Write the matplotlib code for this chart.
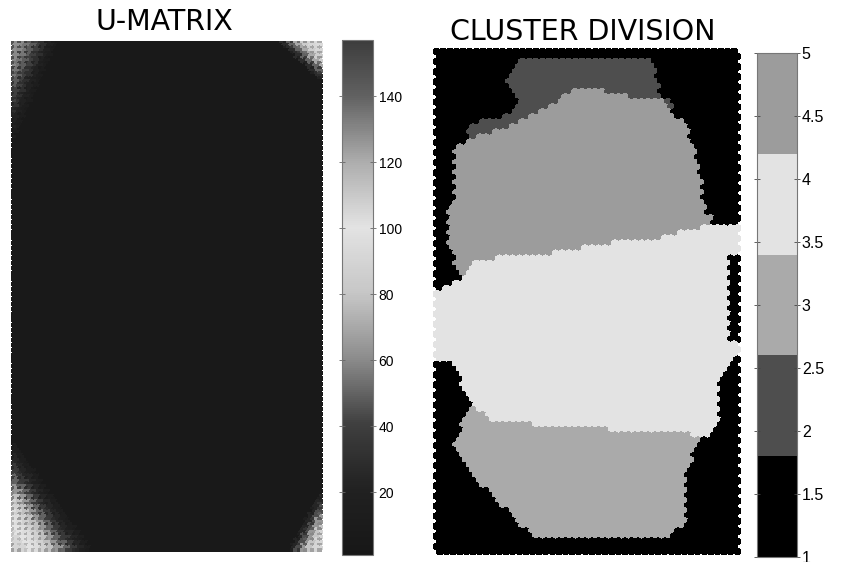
import numpy as np
import matplotlib
matplotlib.use('Agg')
import matplotlib.pyplot as plt
import matplotlib.cm as cm
from matplotlib.collections import PolyCollection
from matplotlib.colors import LinearSegmentedColormap, ListedColormap, Normalize
from matplotlib.path import Path

# SOM grid size (rows x cols), u-matrix is 2n-1 in each direction
som_rows, som_cols = 100, 46
umat_rows, umat_cols = 2 * som_rows - 1, 2 * som_cols - 1

# u-matrix colour scale
umat_levels = [0, 20, 40, 60, 80, 100, 120, 140, 157]
umat_greys = [0.09, 0.13, 0.25, 0.55, 0.78, 0.89, 0.68, 0.38, 0.24]
umat_ticks = [20, 40, 60, 80, 100, 120, 140]
umat_base = 6

# corner patches of the u-matrix: extent (rows, cols) and values from the corner outwards
tl_extent = (38, 13)
tl_values = [62, 60, 55, 48, 40, 30, 20, 12]
tr_extent = (15, 12)
tr_values = [95, 92, 85, 70, 50, 28]
bl_extent = (42, 23)
bl_values = [90, 105, 100, 96, 88, 78, 64, 50, 36, 24, 14]
br_extent = (22, 9)
br_values = [92, 90, 80, 64, 44, 24]

# cluster map: grey per cluster id 1..5 and region outlines in (col, row) units
cluster_ids = [1, 2, 3, 4, 5]
cluster_greys = ['#000000', '#4e4e4e', '#aaaaaa', '#e3e3e3', '#9c9c9c']
cb2_ticks = [1, 1.5, 2, 2.5, 3, 3.5, 4, 4.5, 5]

region2 = [(12.3, 1.6), (32.5, 1.6), (34.0, 8.5), (36.3, 10.9), (35.5, 11.3), (34.0, 9.9),
           (30.0, 9.5), (26.5, 8.3), (25.0, 7.6), (21.6, 7.4), (19.0, 9.3), (15.6, 11.9),
           (13.0, 13.5), (10.5, 15.3), (7.0, 16.5), (4.5, 17.9), (4.8, 15.3), (6.6, 13.9),
           (11.2, 12.5), (12.6, 10.5), (10.5, 6.6), (11.2, 4.6)]
region5 = [(4.5, 17.9), (7.0, 16.5), (10.5, 15.3), (13.0, 13.5), (15.6, 11.9), (19.0, 9.3),
           (21.6, 7.4), (25.0, 7.6), (26.5, 8.3), (30.0, 9.5), (34.0, 9.9), (35.5, 11.3),
           (36.6, 13.3), (38.0, 15.5), (38.9, 19.3), (40.0, 24.5), (40.7, 31.8), (41.5, 32.8),
           (41.5, 34.4), (33.0, 37.2), (23.1, 38.4), (21.6, 39.8), (13.0, 40.2), (6.0, 41.7),
           (4.5, 43.7), (3.6, 45.1), (2.1, 39.2), (1.5, 35.8), (2.1, 31.2), (3.0, 26.4),
           (2.5, 19.3)]
region4 = [(-1, 48.3), (3.6, 45.1), (4.5, 43.7), (6.0, 41.7), (13.0, 40.2), (21.6, 39.8),
           (23.1, 38.4), (33.0, 37.2), (41.5, 34.4), (47, 34.4), (47, 39.8), (44.5, 40.8),
           (44.2, 57.7), (47, 58.6), (47, 60.6), (45.5, 60.6), (42.5, 67.0), (43.0, 73.0),
           (41.9, 76.1), (40.0, 77.1), (38.0, 75.9), (25.8, 75.9), (25.3, 74.2), (18.6, 74.2),
           (16.0, 74.9), (13.0, 73.0), (8.1, 73.0), (5.5, 70.2), (4.5, 67.6), (2.5, 62.2),
           (-1, 60.6)]
region3 = [(5.5, 70.2), (8.1, 73.0), (13.0, 73.0), (16.0, 74.9), (18.6, 74.2), (25.3, 74.2),
           (25.8, 75.9), (38.0, 75.9), (40.0, 77.1), (37.5, 84.1), (38.0, 93.4), (35.0, 96.0),
           (14.5, 96.0), (10.5, 90.9), (6.6, 85.5), (4.0, 80.1), (2.5, 77.5)]

# pointy-top hexagon, one column wide, in row units
hex_dx = np.array([0.5, 0.0, -0.5, -0.5, 0.0, 0.5])
hex_dy = np.array([0.333, 0.667, 0.333, -0.333, -0.667, -0.333])


def hex_grid(nrows, ncols):
    rr, cc = np.mgrid[0:nrows, 0:ncols]
    x = (cc + 0.5 * (rr % 2)).ravel().astype(float)
    y = rr.ravel().astype(float)
    return x, y, rr.ravel(), cc.ravel()


def hex_verts(x, y):
    return np.stack([x[:, None] + hex_dx, y[:, None] + hex_dy], axis=-1)


def setup_ax(ax, nrows, ncols):
    ax.set_xlim(-0.55, ncols + 0.05)
    ax.set_ylim(nrows - 1 + 0.7, -0.7)
    ax.axis('off')


fig = plt.figure(figsize=(8.5, 5.62), dpi=100)
W, H = 850, 562


def px_axes(x0, y0, x1, y1):
    return fig.add_axes([x0 / W, 1 - y1 / H, (x1 - x0) / W, (y1 - y0) / H])


# ---- U-matrix ----
umat_cmap = LinearSegmentedColormap.from_list(
    'umat', [(v / umat_levels[-1], (g, g, g)) for v, g in zip(umat_levels, umat_greys)])
unorm = Normalize(1, umat_levels[-1])

ux, uy, ur, uc = hex_grid(umat_rows, umat_cols)
uvals = np.full(ur.shape, float(umat_base))
corners = [(0, 0, tl_extent, tl_values), (0, umat_cols - 1, tr_extent, tr_values),
           (umat_rows - 1, 0, bl_extent, bl_values),
           (umat_rows - 1, umat_cols - 1, br_extent, br_values)]
for r0, c0, (er, ec), vals in corners:
    d = np.abs(ur - r0) / er + np.abs(uc - c0) / ec
    idx = (d * len(vals)).astype(int)
    inside = idx < len(vals)
    patch = np.array(vals, dtype=float)[idx[inside]]
    uvals[inside] = np.maximum(uvals[inside], patch)
# node cells of the u-matrix sit a bit darker
nodes = (ur % 2 == 0) & (uc % 2 == 0) & (uvals > umat_base)
uvals[nodes] = np.maximum(umat_base, uvals[nodes] * 0.75)

ax1 = px_axes(11, 41, 323, 552)
pc1 = PolyCollection(hex_verts(ux, uy), array=uvals, cmap=umat_cmap, norm=unorm,
                     edgecolors='face', linewidths=0.4, antialiaseds=False)
ax1.add_collection(pc1)
setup_ax(ax1, umat_rows, umat_cols)
fig.text(164 / W, 1 - 22 / H, 'U-MATRIX', ha='center', va='center',
         fontsize=20.5, family='DejaVu Sans')

cax1 = px_axes(342, 40, 373, 555)
cb1 = fig.colorbar(cm.ScalarMappable(norm=unorm, cmap=umat_cmap), cax=cax1, ticks=umat_ticks)
cb1.outline.set_edgecolor('#777777')
cb1.outline.set_linewidth(0.8)
cax1.tick_params(direction='inout', length=4, width=0.6, color='#666666',
                 left=True, right=True, labelsize=10, pad=2)
for t in cax1.get_yticklabels():
    t.set_family('Liberation Sans')

# ---- cluster division ----
cx, cy, cr, cc = hex_grid(som_rows, som_cols)
labels = np.ones(cr.shape)
pts = np.c_[cx, cy]
for cid, poly in [(2, region2), (5, region5), (4, region4), (3, region3)]:
    labels[Path(poly).contains_points(pts)] = cid

clus_cmap = ListedColormap(cluster_greys)
cnorm = Normalize(1, 5)
ax2 = px_axes(433, 48, 741, 555)
face = [cluster_greys[cluster_ids.index(int(l))] for l in labels]
pc2 = PolyCollection(hex_verts(cx, cy), facecolors=face, edgecolors=face,
                     linewidths=0.4, antialiaseds=False)
ax2.add_collection(pc2)
setup_ax(ax2, som_rows, som_cols)
fig.text(583 / W, 1 - 32 / H, 'CLUSTER DIVISION', ha='center', va='center',
         fontsize=20.5, family='DejaVu Sans')

cax2 = px_axes(757, 53, 797, 557)
cb2 = fig.colorbar(cm.ScalarMappable(norm=cnorm, cmap=clus_cmap), cax=cax2, ticks=cb2_ticks)
cb2.ax.set_yticklabels(['%g' % t for t in cb2_ticks])
cb2.outline.set_edgecolor('#777777')
cb2.outline.set_linewidth(0.8)
cax2.tick_params(direction='inout', length=5, width=0.6, color='#444444',
                 left=True, right=True, labelsize=11.5, pad=1)
for t in cax2.get_yticklabels():
    t.set_family('Liberation Sans')

fig.savefig('out.png', dpi=100)
